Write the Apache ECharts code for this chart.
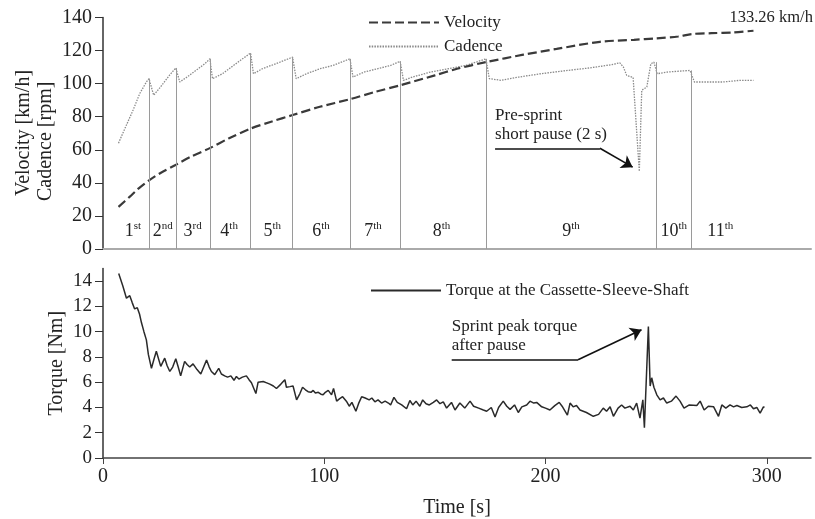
<!DOCTYPE html>
<html>
<head>
<meta charset="utf-8">
<script src="https://cdn.jsdelivr.net/npm/echarts@6/dist/echarts.min.js"></script>
<style>
  html, body { margin: 0; padding: 0; background: #fff; }
  #chart { width: 815px; height: 519px; }
</style>
</head>
<body>
<div id="chart"></div>
<script>
// velocity [time s, km/h]
var velocity = [[7,25.5],[12,31.5],[16,36.5],[20.8,41.5],[26,46],[33,51],[40,56],[48.3,61],[57,67],[66.7,72.8],
  [76,77],[85.7,81],[98,86],[111.6,90.6],[123,95],[134.5,99.1],[150,105],[160,109],[173.1,113],[190,117.5],
  [205,121],[224.6,125.3],[240,126.5],[250,127.4],[260,128.5],[266,130],[275,130.5],[285,131],[294,132]];

// cadence [time s, rpm]
var cadence = [[7,64],[10.6,75],[13.6,84],[16.6,94],[19.6,101],[20.8,103],[22.9,93],[26,98],[30,105],[32.9,109.5],
  [34.7,101],[38,104],[42,108],[46,112],[48.3,115],[49.5,103],[54,106],[58,110],[62,114],[66.7,118.5],
  [68,106],[72,109],[76,111],[80,113],[85.7,116],[87.3,103],[92,106],[98,109],[104,111],[111.6,115],
  [113,104],[118,107],[124,109],[130,111],[134.3,113.5],[135.8,102],[140,104],[148,107],[156,109],[164,111],
  [173.1,115],[174.6,103],[180,102],[188,104],[198,106],[210,108],[220,109.5],[230,111.5],[233.6,112.6],[235.2,110],
  [236.7,105],[239.6,103.7],[242.4,47],[243.5,96],[245.8,98],[247.6,112],[249,113],[250.5,106],[255,107],[260,107.5],
  [265.3,108],[267.3,101],[272,101],[280,101],[288,102],[294,102]];

// torque [time s, Nm]
var torque = [[7.1,14.6],[9,13.6],[10.6,12.65],[12.1,12.85],[13.2,12.3],[14.3,11.8],[15.5,11.9],[16.5,11.4],[17.4,10.7],[18.5,10.0],
  [19.6,9.35],[20.5,8.2],[21.9,7.1],[23,7.8],[24.1,8.45],[25,8.4],[26.1,7.25],[27.9,7.9],[29,7.3],[30.2,6.85],
  [31.5,7.2],[32.9,7.85],[34,7.2],[35.1,6.5],[36.9,7.65],[38,7.4],[39.2,7.2],[40.7,7.45],[42.5,7.0],[44.2,6.65],
  [45.5,7.2],[46.8,7.75],[48,7.2],[49,6.85],[50.5,6.6],[52.3,7.1],[53.5,6.65],[55,6.5],[56.3,6.4],[57.8,6.5],
  [59.2,6.15],[60.3,6.45],[61.4,6.25],[63,6.4],[64.8,6.5],[66,6.2],[67.1,5.95],[68,5.8],[69.1,5.1],[70.1,6.0],
  [72.4,6.05],[74,5.95],[75.4,5.85],[77,5.7],[78.4,5.5],[80.4,5.85],[82.2,6.2],[82.9,5.6],[84.5,5.65],[85.9,5.7],
  [87.5,4.6],[89,5.1],[90.2,5.6],[91.5,5.4],[92.7,5.25],[94,5.2],[95,5.35],[96,5.15],[97.3,5.2],[98.5,5.05],
  [99.5,5.0],[100.5,5.2],[101.8,5.35],[103.3,5.0],[104.2,5.5],[105.6,4.5],[107,4.7],[108.3,4.85],[110,4.5],[111.3,4.1],
  [112.5,4.4],[114.3,3.7],[115.5,4.3],[116.9,4.85],[118.5,4.75],[120.3,4.6],[121.5,4.75],[122.9,4.45],[124.3,4.6],[125.9,4.35],
  [127.5,4.5],[129,4.35],[130,4.2],[131.5,4.8],[133,4.4],[135,4.2],[137.2,3.9],[138.7,4.55],[140,4.2],[141.5,4.5],
  [143.2,4.1],[144.5,4.6],[146,4.3],[147.5,4.2],[149.3,4.4],[150.8,4.6],[152.3,4.3],[153.8,4.45],[155.3,3.95],[157.5,4.4],
  [159.1,3.8],[161.3,4.35],[163.5,3.95],[165.9,4.5],[167.5,4.1],[169.8,3.95],[171.9,3.8],[173.4,3.7],[175.5,4.0],[177.2,3.25],
  [178.8,4.0],[180.9,4.5],[182.5,4.1],[184,3.85],[186,4.2],[187.7,3.6],[189.3,4.05],[191.5,4.2],[193,4.5],[194.7,4.35],
  [196,4.4],[198.3,4.05],[200,3.95],[202,3.8],[204.2,4.15],[206.2,4.4],[207.5,4.1],[209.9,3.4],[211.1,4.35],[212.5,4.05],
  [214,4.15],[215.6,3.8],[218.5,3.6],[221.6,3.3],[224,3.45],[226.1,3.95],[227.6,3.7],[229.2,4.05],[230.7,3.3],[232.8,3.95],
  [234.4,4.2],[235.9,3.95],[238.2,4.1],[239.7,3.8],[241.2,4.35],[242.7,3.15],[244,4.6],[244.7,2.4],[245.5,2.5],[246.5,10.4],
  [247.3,5.7],[248,6.35],[249,5.6],[250.3,5.0],[251.8,4.6],[253.3,4.75],[254.8,4.35],[256.9,4.5],[259,4.9],[260.8,4.5],
  [262.6,3.95],[265,4.2],[268.4,4.15],[269.9,4.5],[271.7,3.8],[273.6,4.1],[276,4.05],[278.2,3.3],[279.7,4.2],[281.5,3.95],
  [283.4,4.2],[285,4.05],[286.5,4.15],[288.7,4.0],[291,4.05],[292.6,4.2],[294,3.9],[295.5,4.0],[297,3.55],[298.5,4.05],[299,4.0]];

// gear shifts: time and cadence reached at the shift
var shiftT = [20.8, 32.9, 48.3, 66.7, 85.7, 111.6, 134.3, 173.1, 250, 266.1];
var shiftTop = [103, 109.5, 115, 118.5, 116, 115, 113.5, 115, 113, 108];
var gearT = [13.5, 27, 40.5, 57, 76.5, 98.5, 122, 153, 211.5, 258, 279];
var gearNum = ['1', '2', '3', '4', '5', '6', '7', '8', '9', '10', '11'];
var gearSuf = ['st', 'nd', 'rd', 'th', 'th', 'th', 'th', 'th', 'th', 'th', 'th'];

var yTicksBottom = [0, 2, 4, 6, 8, 10, 12, 14];
var xTicks = [0, 100, 200, 300];

var FONT = 'Liberation Serif';
var chart = echarts.init(document.getElementById('chart'));

var option = {
  backgroundColor: '#fff',
  animation: false,
  textStyle: { fontFamily: FONT, color: '#222' },
  grid: [
    { left: 103, right: 4, top: 17.5, bottom: 270 },
    { left: 103, right: 4, top: 268.5, bottom: 60.7 }
  ],
  legend: [
    {
      data: ['Velocity', 'Cadence'],
      orient: 'vertical', left: 363, top: 9,
      itemWidth: 70, itemHeight: 14, itemGap: 7,
      itemStyle: { opacity: 0 },
      textStyle: { fontFamily: FONT, fontSize: 17, color: '#222' }
    },
    {
      data: ['Torque at the Cassette-Sleeve-Shaft'],
      left: 365, top: 277,
      itemWidth: 70, itemHeight: 14,
      itemStyle: { opacity: 0 },
      textStyle: { fontFamily: FONT, fontSize: 17, color: '#222' }
    }
  ],
  xAxis: [
    {
      type: 'value', gridIndex: 0, min: 0, max: 320,
      axisLine: { lineStyle: { color: '#aaa', width: 2 } },
      axisTick: { show: false }, axisLabel: { show: false }, splitLine: { show: false }
    },
    {
      type: 'value', gridIndex: 1, min: 0, max: 320,
      name: 'Time [s]', nameLocation: 'middle', nameGap: 40,
      nameTextStyle: { fontFamily: FONT, fontSize: 20, color: '#222' },
      axisLine: { lineStyle: { color: '#444', width: 1.5 } },
      axisTick: { length: 6, customValues: xTicks, lineStyle: { color: '#444' } },
      axisLabel: { customValues: xTicks, fontFamily: FONT, fontSize: 20, color: '#222', margin: 9 },
      splitLine: { show: false }
    }
  ],
  yAxis: [
    {
      type: 'value', gridIndex: 0, min: 0, max: 140, interval: 20,
      axisLine: { show: true, lineStyle: { color: '#333', width: 1.5 } },
      axisTick: { show: true, length: 8, lineStyle: { color: '#333' } },
      axisLabel: { fontFamily: FONT, fontSize: 20, color: '#222', margin: 11 },
      splitLine: { show: false }
    },
    {
      type: 'value', gridIndex: 1, min: 0, max: 15,
      name: 'Torque [Nm]', nameLocation: 'middle', nameGap: 36, nameMoveOverlap: false,
      nameTextStyle: { fontFamily: FONT, fontSize: 20, color: '#222' },
      axisLine: { show: true, lineStyle: { color: '#333', width: 1.5 } },
      axisTick: { show: true, length: 8, customValues: yTicksBottom, lineStyle: { color: '#333' } },
      axisLabel: { customValues: yTicksBottom, fontFamily: FONT, fontSize: 19, color: '#222', margin: 11 },
      splitLine: { show: false }
    }
  ],
  graphic: [
    { type: 'text', x: 24, y: 133, rotation: Math.PI / 2,
      style: { text: 'Velocity [km/h]', fontFamily: FONT, fontSize: 20, fill: '#222',
        align: 'center', verticalAlign: 'middle', textAlign: 'center', textVerticalAlign: 'middle' } },
    { type: 'text', x: 46, y: 201, rotation: Math.PI / 2,
      style: { text: 'Cadence [rpm]', fontFamily: FONT, fontSize: 20, fill: '#222',
        align: 'left', verticalAlign: 'middle', textAlign: 'left', textVerticalAlign: 'middle' } }
  ],
  series: [
    {
      name: 'Velocity', type: 'line', xAxisIndex: 0, yAxisIndex: 0,
      data: velocity, symbol: 'none', smooth: 0.3, z: 4,
      lineStyle: { color: '#3a3a3a', width: 2.2, type: [9, 4] },
      itemStyle: { color: '#3a3a3a' },
      markPoint: {
        symbol: 'circle', symbolSize: 0, silent: true,
        data: [{ coord: velocity[velocity.length - 1],
          label: { show: true, formatter: '133.26 km/h', position: [-24, -22], align: 'left', verticalAlign: 'top',
            fontFamily: FONT, fontSize: 16.5, color: '#222' } }]
      },
      markLine: {
        silent: true, symbolSize: 11,
        lineStyle: { color: '#111', width: 1.6, type: 'solid' },
        label: { show: false },
        data: [
          [{ coord: [177.2, 60.9], symbol: 'none' }, { coord: [224.6, 60.9], symbol: 'none' }],
          [{ coord: [224.6, 60.9], symbol: 'none' }, { coord: [239.4, 49.5], symbol: 'arrow' }]
        ]
      }
    },
    {
      name: 'Cadence', type: 'line', xAxisIndex: 0, yAxisIndex: 0,
      data: cadence, symbol: 'none', z: 3,
      lineStyle: { color: '#8a8a8a', width: 1.3, type: [1.5, 1.2] },
      itemStyle: { color: '#8a8a8a' },
      markLine: {
        silent: true, symbol: ['none', 'none'],
        lineStyle: { color: '#9a9a9a', width: 1, type: 'solid' },
        label: { show: false },
        data: shiftT.map(function (t, i) { return [{ coord: [t, 0] }, { coord: [t, shiftTop[i]] }]; })
      },
      markPoint: {
        symbol: 'circle', symbolSize: 0, silent: true,
        label: {
          show: true, position: 'inside', color: '#222',
          rich: {
            n: { fontFamily: FONT, fontSize: 18, lineHeight: 20, color: '#222' },
            s: { fontFamily: FONT, fontSize: 11, lineHeight: 20, verticalAlign: 'top', color: '#222' }
          }
        },
        data: gearT.map(function (t, i) {
          return { coord: [t, 11], label: { formatter: '{n|' + gearNum[i] + '}{s|' + gearSuf[i] + '}' } };
        }).concat([{ coord: [177.2, 60.9],
          label: { position: [0, -42], align: 'left', verticalAlign: 'top', formatter: 'Pre-sprint\nshort pause (2 s)',
            fontFamily: FONT, fontSize: 17, lineHeight: 19, color: '#222' } }])
      }
    },
    {
      name: 'Torque at the Cassette-Sleeve-Shaft', type: 'line', xAxisIndex: 1, yAxisIndex: 1,
      data: torque, symbol: 'none',
      lineStyle: { color: '#2a2a2a', width: 1.5 },
      itemStyle: { color: '#2a2a2a' },
      markLine: {
        silent: true, symbolSize: 11,
        lineStyle: { color: '#111', width: 1.6, type: 'solid' },
        label: { show: false },
        data: [
          [{ coord: [157.6, 7.77], symbol: 'none' }, { coord: [214.7, 7.77], symbol: 'none' }],
          [{ coord: [214.7, 7.77], symbol: 'none' }, { coord: [243.4, 10.15], symbol: 'arrow' }]
        ]
      },
      markPoint: {
        symbol: 'circle', symbolSize: 0, silent: true,
        data: [{ coord: [157.6, 7.77],
          label: { show: true, position: [0, -43], align: 'left', verticalAlign: 'top',
            formatter: 'Sprint peak torque\nafter pause', fontFamily: FONT, fontSize: 17, lineHeight: 19, color: '#222' } }]
      }
    }
  ]
};

chart.setOption(option);
window.addEventListener('resize', function () { chart.resize(); });
</script>
</body>
</html>
